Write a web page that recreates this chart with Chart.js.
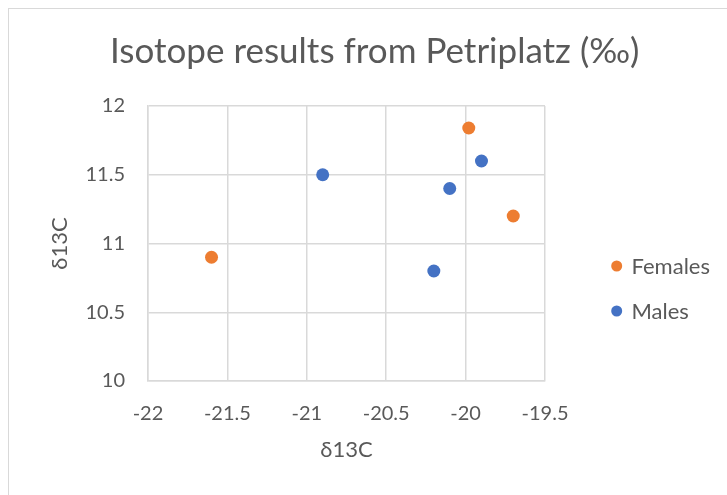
<!DOCTYPE html>
<html>
<head>
<meta charset="utf-8">
<script src="https://cdn.jsdelivr.net/npm/chart.js@4"></script>
<style>
  html, body { margin: 0; padding: 0; background: #ffffff; }
  #wrap { width: 727px; height: 495px; position: relative; }
</style>
</head>
<body>
<div id="wrap"><canvas id="c" width="727" height="495"></canvas></div>
<script>
const chartTitle = "Isotope results from Petriplatz (‰)";
const xAxisTitle = "δ13C";
const yAxisTitle = "δ13C";
const seriesNames = ["Females", "Males"];
const seriesColors = ["#ED7D31", "#4472C4"];
const femalesX = [-19.98, -19.70, -21.60];
const femalesY = [11.84, 11.20, 10.90];
const malesX = [-20.90, -19.90, -20.10, -20.20];
const malesY = [11.50, 11.60, 11.40, 10.80];
const xTicks = [-22, -21.5, -21, -20.5, -20, -19.5];
const yTicks = [10, 10.5, 11, 11.5, 12];

const textColor = "#595959";
const gridColor = "#d9d9d9";
const fontFamily = "Lato, 'Open Sans', sans-serif";

function toPoints(xs, ys) { return xs.map((x, i) => ({ x: x, y: ys[i] })); }

const decorPlugin = {
  id: 'decor',
  beforeDraw(chart) {
    const ctx = chart.ctx;
    ctx.save();
    ctx.fillStyle = '#ffffff';
    ctx.fillRect(0, 0, chart.width, chart.height);
    ctx.strokeStyle = gridColor;
    ctx.lineWidth = 1;
    ctx.strokeRect(8.5, 8.5, 900, 700);
    ctx.restore();
  },
  afterDraw(chart) {
    const ctx = chart.ctx;
    ctx.save();
    // title
    ctx.fillStyle = textColor;
    ctx.font = "35px " + fontFamily;
    ctx.textAlign = 'center';
    ctx.textBaseline = 'alphabetic';
    ctx.fillText(chartTitle, 374.7, 63);
    // legend
    ctx.font = "22px " + fontFamily;
    ctx.textAlign = 'left';
    ctx.textBaseline = 'middle';
    const ys = [266, 311];
    chart.data.datasets.forEach((ds, i) => {
      ctx.beginPath();
      ctx.fillStyle = ds.backgroundColor;
      ctx.arc(616.7, ys[i], 5.5, 0, Math.PI * 2);
      ctx.fill();
      ctx.fillStyle = textColor;
      ctx.fillText(ds.label, 631.5, ys[i] + 1);
    });
    ctx.restore();
  }
};

new Chart(document.getElementById('c'), {
  type: 'scatter',
  data: {
    datasets: [
      { label: seriesNames[0], data: toPoints(femalesX, femalesY), backgroundColor: seriesColors[0], borderColor: seriesColors[0], pointRadius: 6.5, pointHoverRadius: 6.5, borderWidth: 0 },
      { label: seriesNames[1], data: toPoints(malesX, malesY), backgroundColor: seriesColors[1], borderColor: seriesColors[1], pointRadius: 6.5, pointHoverRadius: 6.5, borderWidth: 0 }
    ]
  },
  options: {
    responsive: false,
    animation: false,
    layout: { padding: { top: 106, left: 0, right: 182, bottom: 0 } },
    plugins: {
      legend: { display: false },
      title: { display: false },
      tooltip: { enabled: false }
    },
    scales: {
      x: {
        type: 'linear',
        min: xTicks[0], max: xTicks[xTicks.length - 1],
        afterBuildTicks(scale) { scale.ticks = xTicks.map(v => ({ value: v })); },
        afterFit(scale) { scale.height = 114; },
        grid: { color: gridColor, lineWidth: 1.5, drawTicks: false },
        border: { color: gridColor, width: 1.5 },
        ticks: { color: textColor, font: { family: fontFamily, size: 20 }, padding: 21, maxRotation: 0, autoSkip: false, callback: v => String(v) },
        title: { display: true, text: xAxisTitle, color: textColor, font: { family: fontFamily, size: 22 }, padding: { top: 0, bottom: 32 } }
      },
      y: {
        type: 'linear',
        min: yTicks[0], max: yTicks[yTicks.length - 1],
        afterBuildTicks(scale) { scale.ticks = yTicks.map(v => ({ value: v })); },
        afterFit(scale) { scale.width = 148; },
        grid: { color: gridColor, lineWidth: 1.5, drawTicks: false },
        border: { color: gridColor, width: 1.5 },
        ticks: { color: textColor, font: { family: fontFamily, size: 20 }, padding: 23, autoSkip: false, callback: v => String(v) },
        title: { display: true, text: yAxisTitle, color: textColor, font: { family: fontFamily, size: 22 }, padding: { top: 47, bottom: 0 } }
      }
    }
  },
  plugins: [decorPlugin]
});
</script>
</body>
</html>
